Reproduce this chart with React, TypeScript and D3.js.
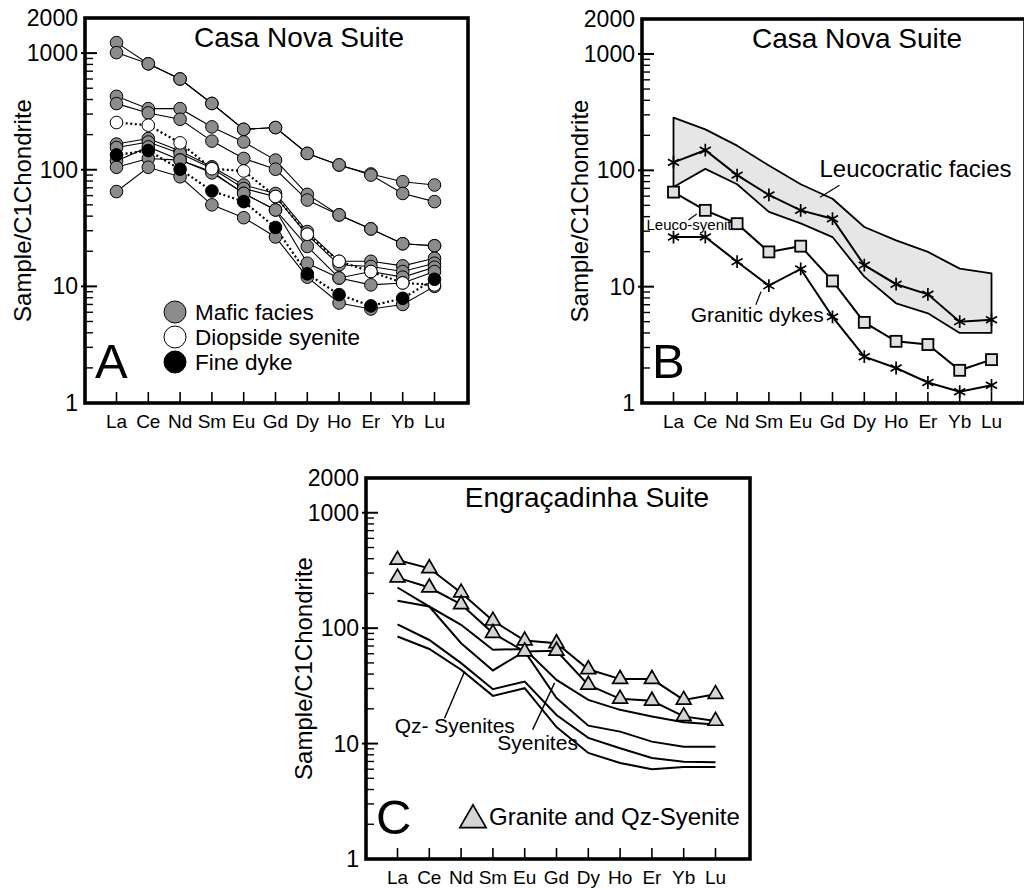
import React from "react";
import * as d3 from "d3";

// ---------- shared axis data ----------
const ELEMENTS = ["La", "Ce", "Nd", "Sm", "Eu", "Gd", "Dy", "Ho", "Er", "Yb", "Lu"];
const Y_TICK_VALUES = [1, 10, 100, 1000, 2000];
const Y_TICK_LABELS = ["1", "10", "100", "1000", "2000"];
const MAJOR_TICKS = [10, 100, 1000];
const MINOR_MULTIPLIERS = [2, 3, 4, 5, 6, 7, 8, 9];
const MINOR_DECADES = [1, 10, 100];
const Y_TITLE = "Sample/C1Chondrite";

// ---------- Panel A: Casa Nova Suite ----------
const maficA = [
  [1230, 810, 600, 370, 222, 230, 138, 110, 92, 79, 74],
  [1010, 810, 600, 370, 222, 230, 138, 110, 90, 62.6, 53.3],
  [426, 334, 334, 233, 173, 121, 61.5, 41, 31.1, 23.2, 22.3],
  [369, 307, 271, 176, 125, 101, 55, 41, 31.1, 23.2, 22.3],
  [166, 185, 145, 106, 74, 62.6, 29.5, 16.4, 16.4, 15, 17.4],
  [155, 173, 138, 103, 69, 58.8, 27.6, 15.3, 14.8, 13.4, 15.8],
  [119, 157, 121, 96, 62.7, 45.2, 22, 11.8, 13.4, 12, 14.6],
  [105, 125, 121, 94, 62.7, 45.2, 15.8, 11.8, 10.3, 10.7, 13.4],
  [65, 105, 87, 50, 38.8, 26.5, 12, 7.2, 6.4, 7.0, 10],
];
const diopsideA = [[254, 241, 170, 102, 97.6, 59, 28, 16.4, 13.4, 10.7, 10.3]];
const fineDykeA = [[134, 146, 101, 65.8, 53.3, 32, 12.8, 8.5, 6.8, 7.9, 11.5]];
const legendA = [
  { label: "Mafic facies", fill: "#8c8c8c" },
  { label: "Diopside syenite", fill: "#ffffff" },
  { label: "Fine dyke", fill: "#000000" },
];

// ---------- Panel B: Casa Nova Suite ----------
const bandUpperB = [284, 225, 163, 110, 76, 57, 32.6, 25, 19.9, 14.3, 13];
const bandLowerB = [72, 103, 76, 44, 35, 26.7, 12.2, 7.2, 5.9, 4.0, 4.0];
const leucoStarsB = [117, 149, 91, 61.5, 45.3, 38.4, 15.3, 10.5, 8.6, 5.0, 5.2];
const leucoSyeniteB = [65, 45.3, 34.8, 19.9, 22.3, 11.2, 4.93, 3.39, 3.18, 1.91, 2.36];
const graniticDykesB = [26.7, 26.7, 16.4, 10.2, 14.2, 5.5, 2.5, 2.0, 1.5, 1.25, 1.42];
const labelsB = [
  { text: "Leucocratic facies", i: 4.59, v: 87, size: 24 },
  { text: "Leuco-syenite", i: -0.85, v: 30.7, size: 15 },
  { text: "Granitic dykes", i: 0.54, v: 5.0, size: 21 },
];
const leadersB = [
  { i1: 5.22, v1: 74.5, i2: 4.61, v2: 58.8 },
  { i1: 0.47, v1: 37.4, i2: 0.73, v2: 42.1 },
  { i1: 2.75, v1: 9.06, i2: 2.59, v2: 7.0 },
];

// ---------- Panel C: Engraçadinha Suite ----------
const graniteC = [
  [390, 330, 203, 116, 78, 74, 44, 36.2, 36.2, 23.9, 26.8],
  [274, 225, 161, 90.6, 62.7, 63.6, 32.3, 24.4, 23.5, 17.2, 15.7],
];
const syenitesC = [
  [173, 154, 107, 65, 66, 35.6, 23.9, 19.6, 17.2, 15.3, 14.6],
  [225, 154, 74, 43, 63, 24.8, 14.3, 12.7, 10.4, 9.4, 9.4],
  [108, 79, 49.8, 29.6, 34.5, 17.7, 11.2, 9.1, 7.5, 6.95, 6.9],
  [84.6, 66, 43.6, 25.9, 30.2, 13.9, 8.3, 6.8, 6.0, 6.27, 6.27],
];
const labelsC = [
  { text: "Qz- Syenites", i: -0.09, v: 12.4, size: 21 },
  { text: "Syenites", i: 3.14, v: 8.83, size: 21 },
];
const leadersC = [
  { i1: 1.48, v1: 16.6, i2: 2.11, v2: 42.1 },
  { i1: 4.25, v1: 13.2, i2: 4.94, v2: 33.6 },
];
const legendC = "Granite and Qz-Syenite";

// ---------- layout ----------
const FONT = "'Liberation Sans', Arial, Helvetica, sans-serif";
const PANEL_A = { left: 85, top: 18, bottom: 403, width: 383, title: "Casa Nova Suite", titleDx: 214, letter: "A" };
const PANEL_B = { left: 642, top: 19, bottom: 403, width: 383, title: "Casa Nova Suite", titleDx: 215, letter: "B" };
const PANEL_C = { left: 366, top: 478, bottom: 859, width: 384, title: "Engraçadinha Suite", titleDx: 221, letter: "C" };

type Panel = typeof PANEL_A;

function makeScales(p: Panel) {
  const x = d3.scaleLinear().domain([0, ELEMENTS.length - 1]).range([p.left + 31.5, p.left + 349.5]);
  const y = d3.scaleLog().domain([1, 2000]).range([p.bottom, p.top]);
  return { x, y };
}

function Axes({ p }: { p: Panel }) {
  const { x, y } = makeScales(p);
  const minor = MINOR_DECADES.flatMap((d) => MINOR_MULTIPLIERS.map((k) => k * d));
  return (
    <g>
      <rect x={p.left} y={p.top} width={p.width} height={p.bottom - p.top} fill="none" stroke="#000" strokeWidth={3.6} />
      {MAJOR_TICKS.map((v) => (
        <line key={"M" + v} x1={p.left - 4} x2={p.left + 12} y1={y(v)} y2={y(v)} stroke="#000" strokeWidth={2} />
      ))}
      {minor.map((v) => (
        <line key={"m" + v} x1={p.left} x2={p.left + 8} y1={y(v)} y2={y(v)} stroke="#000" strokeWidth={1.4} />
      ))}
      {ELEMENTS.map((e, i) => (
        <line key={"x" + e} x1={x(i)} x2={x(i)} y1={p.bottom} y2={p.bottom - 11} stroke="#000" strokeWidth={1.6} />
      ))}
      {Y_TICK_VALUES.map((v, k) => (
        <text key={"yl" + v} x={p.left - 7} y={y(v)} dy="0.35em" textAnchor="end" fontSize={23} fontFamily={FONT}>
          {Y_TICK_LABELS[k]}
        </text>
      ))}
      {ELEMENTS.map((e, i) => (
        <text key={"xl" + e} x={x(i)} y={p.bottom + 18} dy="0.35em" textAnchor="middle" fontSize={19} fontFamily={FONT}>
          {e}
        </text>
      ))}
      <text
        transform={`translate(${p.left - 62},${(p.top + p.bottom) / 2}) rotate(-90)`}
        textAnchor="middle"
        dy="0.35em"
        fontSize={24}
        fontFamily={FONT}
      >
        {Y_TITLE}
      </text>
      <text x={p.left + p.titleDx} y={p.top + 29} textAnchor="middle" fontSize={28} fontFamily={FONT}>
        {p.title}
      </text>
      <text x={p.left + 10} y={p.bottom - 25} fontSize={49} fontFamily={FONT}>
        {p.letter}
      </text>
    </g>
  );
}

function PanelA() {
  const { x, y } = makeScales(PANEL_A);
  const line = d3.line<number>().x((_, i) => x(i)).y((v) => y(v));
  const r = 6.3;
  return (
    <g>
      {maficA.map((s, k) => (
        <path key={"ml" + k} d={line(s) || ""} fill="none" stroke="#000" strokeWidth={1.1} />
      ))}
      {[...diopsideA, ...fineDykeA].map((s, k) => (
        <path key={"dl" + k} d={line(s) || ""} fill="none" stroke="#000" strokeWidth={2.2} strokeDasharray="2,2.6" />
      ))}
      {maficA.map((s, k) =>
        s.map((v, i) => <circle key={`mc${k}-${i}`} cx={x(i)} cy={y(v)} r={r} fill="#8c8c8c" stroke="#000" strokeWidth={1} />)
      )}
      {diopsideA.map((s, k) =>
        s.map((v, i) => <circle key={`oc${k}-${i}`} cx={x(i)} cy={y(v)} r={r} fill="#fff" stroke="#000" strokeWidth={1} />)
      )}
      {fineDykeA.map((s, k) =>
        s.map((v, i) => <circle key={`bc${k}-${i}`} cx={x(i)} cy={y(v)} r={r} fill="#000" stroke="#000" strokeWidth={1} />)
      )}
      {legendA.map((d, k) => {
        const cy = PANEL_A.top + 294 + k * 25;
        return (
          <g key={"lg" + k}>
            <circle cx={PANEL_A.left + 90} cy={cy} r={11} fill={d.fill} stroke="#000" strokeWidth={1} />
            <text x={PANEL_A.left + 110} y={cy} dy="0.35em" fontSize={22.5} fontFamily={FONT}>
              {d.label}
            </text>
          </g>
        );
      })}
    </g>
  );
}

function PanelB() {
  const { x, y } = makeScales(PANEL_B);
  const line = d3.line<number>().x((_, i) => x(i)).y((v) => y(v));
  const area = d3
    .area<number>()
    .x((_, i) => x(i))
    .y0((_, i) => y(bandLowerB[i]))
    .y1((v) => y(v));
  const star = d3.symbol(d3.symbolAsterisk, 115)() || "";
  const sq = 11;
  return (
    <g>
      <path d={(area(bandUpperB) || "") + "Z"} fill="#e6e6e6" stroke="#000" strokeWidth={1.8} strokeLinejoin="round" />
      <path d={line(leucoStarsB) || ""} fill="none" stroke="#000" strokeWidth={2} />
      <path d={line(leucoSyeniteB) || ""} fill="none" stroke="#000" strokeWidth={2} />
      <path d={line(graniticDykesB) || ""} fill="none" stroke="#000" strokeWidth={2} />
      {leadersB.map((l, k) => (
        <line key={"ld" + k} x1={x(l.i1)} y1={y(l.v1)} x2={x(l.i2)} y2={y(l.v2)} stroke="#000" strokeWidth={1.2} />
      ))}
      {labelsB.map((l, k) => (
        <text key={"lb" + k} x={x(l.i)} y={y(l.v)} fontSize={l.size} fontFamily={FONT}>
          {l.text}
        </text>
      ))}
      {leucoSyeniteB.map((v, i) => (
        <rect key={"sq" + i} x={x(i) - sq / 2} y={y(v) - sq / 2} width={sq} height={sq} fill="#e0e0e0" stroke="#000" strokeWidth={1.8} />
      ))}
      {[...leucoStarsB.map((v, i) => [i, v]), ...graniticDykesB.map((v, i) => [i, v])].map(([i, v], k) => (
        <path key={"st" + k} d={star} transform={`translate(${x(i)},${y(v)})`} fill="none" stroke="#000" strokeWidth={1.7} />
      ))}
    </g>
  );
}

function PanelC() {
  const { x, y } = makeScales(PANEL_C);
  const line = d3.line<number>().x((_, i) => x(i)).y((v) => y(v));
  const tri = d3.symbol(d3.symbolTriangle, 95)() || "";
  const triLegend = d3.symbol(d3.symbolTriangle, 300)() || "";
  return (
    <g>
      {syenitesC.map((s, k) => (
        <path key={"sl" + k} d={line(s) || ""} fill="none" stroke="#000" strokeWidth={2} />
      ))}
      {graniteC.map((s, k) => (
        <path key={"gl" + k} d={line(s) || ""} fill="none" stroke="#000" strokeWidth={2} />
      ))}
      {graniteC.map((s, k) =>
        s.map((v, i) => (
          <path key={`tr${k}-${i}`} d={tri} transform={`translate(${x(i)},${y(v)})`} fill="#d4d4d4" stroke="#000" strokeWidth={1.7} />
        ))
      )}
      {leadersC.map((l, k) => (
        <line key={"lc" + k} x1={x(l.i1)} y1={y(l.v1)} x2={x(l.i2)} y2={y(l.v2)} stroke="#000" strokeWidth={1.4} />
      ))}
      {labelsC.map((l, k) => (
        <text key={"tc" + k} x={x(l.i)} y={y(l.v)} fontSize={l.size} fontFamily={FONT}>
          {l.text}
        </text>
      ))}
      <path d={triLegend} transform={`translate(${PANEL_C.left + 107},${PANEL_C.bottom - 39})`} fill="#d4d4d4" stroke="#000" strokeWidth={1.7} />
      <text x={PANEL_C.left + 123} y={PANEL_C.bottom - 42} dy="0.35em" fontSize={24} fontFamily={FONT}>
        {legendC}
      </text>
    </g>
  );
}

export default function App() {
  return (
    <svg width={1024} height={888} style={{ position: "absolute", left: 0, top: 0, background: "#fff" }}>
      <rect x={0} y={0} width={1024} height={888} fill="#fff" />
      <Axes p={PANEL_A} />
      <PanelA />
      <Axes p={PANEL_B} />
      <PanelB />
      <Axes p={PANEL_C} />
      <PanelC />
    </svg>
  );
}
